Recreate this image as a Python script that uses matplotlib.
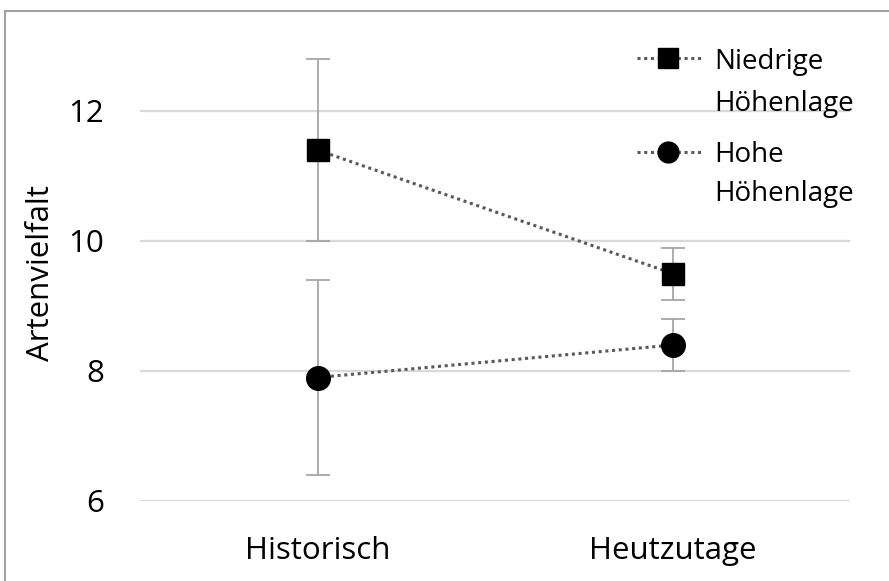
import matplotlib
matplotlib.use("Agg")
import matplotlib.pyplot as plt
from matplotlib.lines import Line2D

plt.rcParams['font.family'] = ['Open Sans', 'DejaVu Sans']

categories = ["Historisch", "Heutzutage"]
niedrig_vals = [11.4, 9.5]
niedrig_err = [1.4, 0.4]
hoch_vals = [7.9, 8.4]
hoch_err = [1.5, 0.4]
series_labels = ["Niedrige\nHöhenlage", "Hohe\nHöhenlage"]
y_ticks = [6, 8, 10, 12]

W, H = 889, 581
FS = 22.5
fig = plt.figure(figsize=(W / 100, H / 100), dpi=100)
ax = fig.add_axes([140 / W, 1 - 501 / H, 710 / W, (501 - 46) / H])

x = list(range(len(categories)))
line_color = "#595959"
err_color = "#a6a6a6"
dotted = (0, (1, 1.2))
styles = [("s", 16), ("o", 17)]

for (vals, errs), (marker, ms) in zip([(niedrig_vals, niedrig_err),
                                       (hoch_vals, hoch_err)], styles):
    ax.errorbar(x, vals, yerr=errs, fmt="none", ecolor=err_color,
                elinewidth=1.3, capsize=8.5, capthick=1.3, zorder=2)
    ax.plot(x, vals, linestyle=dotted, color=line_color, linewidth=2.2,
            zorder=3)
    ax.plot(x, vals, linestyle="none", marker=marker, markersize=ms,
            color="black", zorder=4)

ax.set_xlim(-0.5, 1.5)
ax.set_ylim(6, 13)
ax.set_yticks(y_ticks)
ax.set_xticks(x)
ax.set_xticklabels(categories)
ax.tick_params(axis="both", length=0, labelsize=FS, colors="black")
ax.tick_params(axis="y", pad=26)
ax.tick_params(axis="x", pad=25)
ax.grid(axis="y", color="#d9d9d9", linewidth=1.6, zorder=0)
for s in ax.spines.values():
    s.set_visible(False)
ax.set_ylabel("Artenvielfalt", fontsize=FS, labelpad=9)

# legend: handle beside the first line of each two-line label
legend_rows = [(58, 100), (152, 190)]
for label, (marker, ms), rows in zip(series_labels, styles, legend_rows):
    yf = 1 - rows[0] / H
    fig.add_artist(Line2D([637 / W, 702 / W], [yf, yf], linestyle=dotted,
                          color=line_color, linewidth=2.2,
                          transform=fig.transFigure))
    fig.add_artist(Line2D([668 / W], [yf], linestyle="none", marker=marker,
                          markersize=ms - 2, color="black",
                          transform=fig.transFigure))
    for part, ypx in zip(label.split("\n"), rows):
        fig.text(714 / W, 1 - ypx / H, part, fontsize=20,
                 va="center_baseline", ha="left")

# chart border (top and left edges)
fig.add_artist(Line2D([5 / W, 5 / W], [0, 1 - 11 / H], color="#a0a0a0",
                      linewidth=1.5, transform=fig.transFigure))
fig.add_artist(Line2D([5 / W, 1], [1 - 11 / H, 1 - 11 / H], color="#a0a0a0",
                      linewidth=1.5, transform=fig.transFigure))

fig.savefig("out.png", dpi=100)
